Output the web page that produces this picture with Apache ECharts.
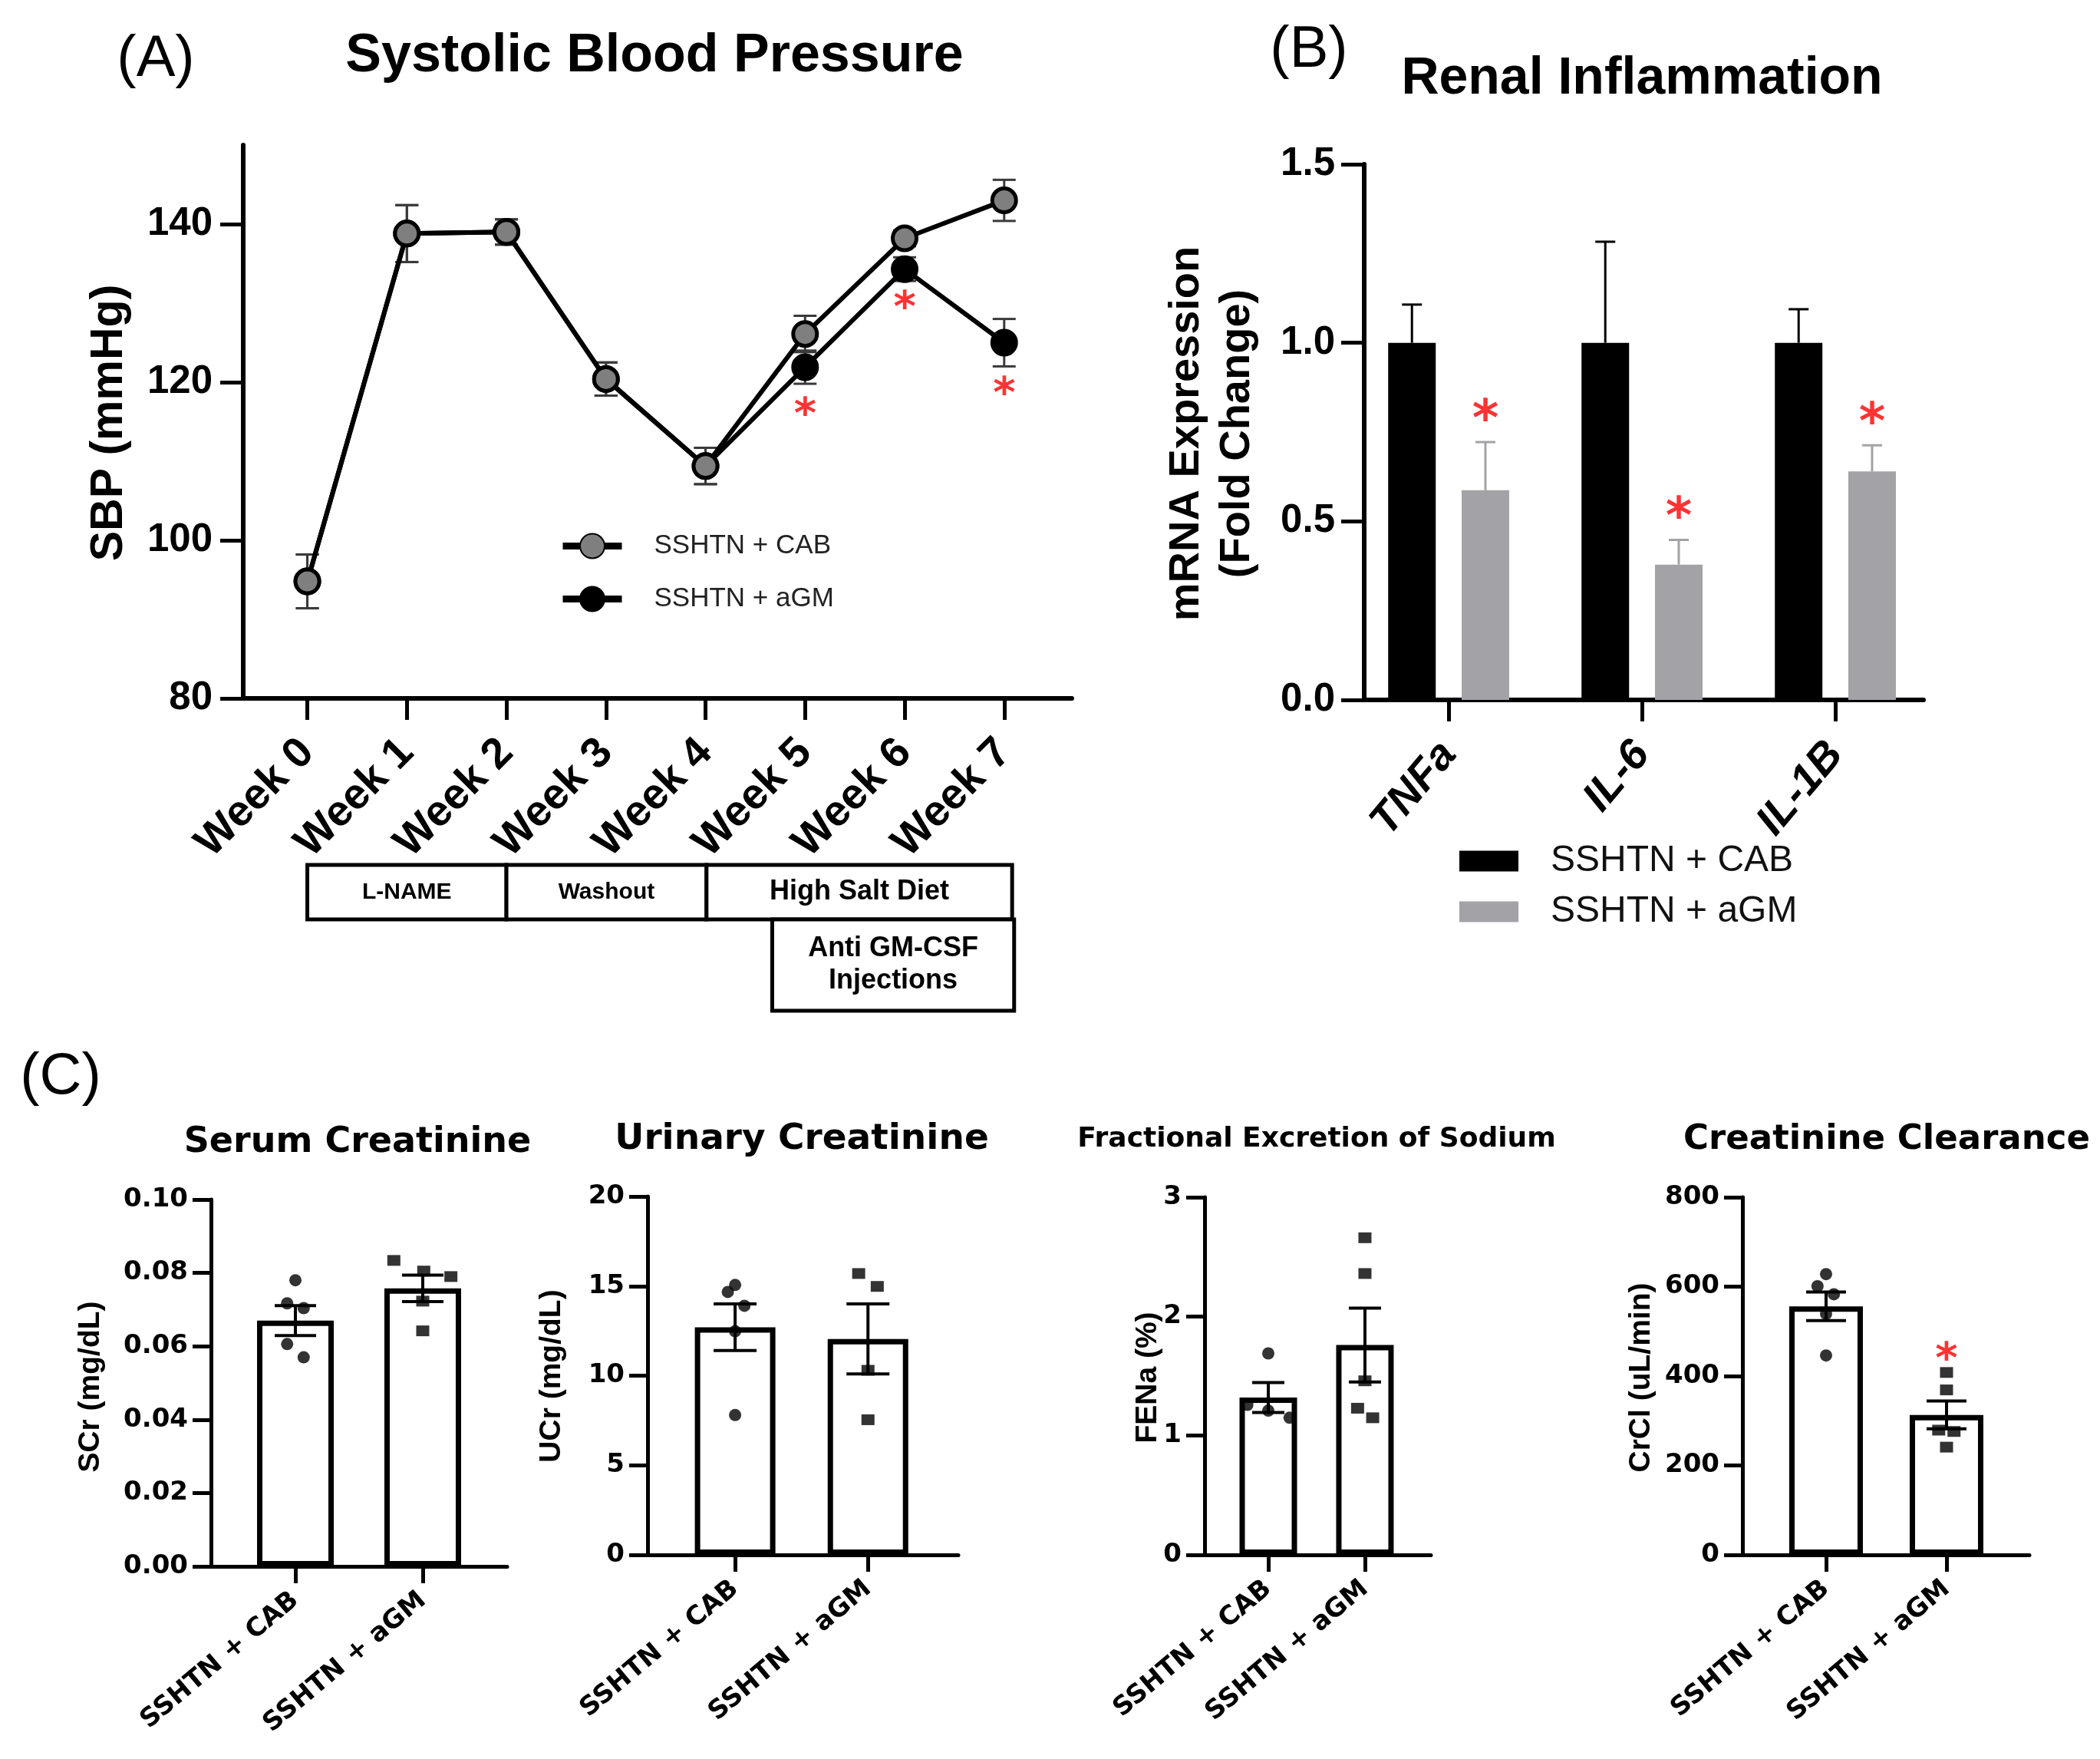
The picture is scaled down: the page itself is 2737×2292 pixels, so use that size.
<!DOCTYPE html>
<html><head><meta charset="utf-8">
<script src="https://cdn.jsdelivr.net/npm/echarts@6/dist/echarts.min.js"></script>
<style>html,body{margin:0;padding:0;background:#fff}#c{width:2737px;height:2292px}</style>
</head><body><div id="c"></div>
<script>
// ================= DATA =================
// (A) Systolic blood pressure
const weekLabels = ['Week 0','Week 1','Week 2','Week 3','Week 4','Week 5','Week 6','Week 7'];
const sbpTicks = [80, 100, 120, 140];
const sbpCAB    = [94.8, 138.8, 139.0, 120.4, 109.4, 126.1, 138.2, 143.0];
const sbpCABErr = [3.4, 3.6, 1.6, 2.1, 2.3, 2.3, 1.0, 2.6];
const sbpAGM    = [94.8, 138.8, 139.0, 120.4, 109.4, 121.9, 134.3, 125.0];
const sbpAGMErr = [3.4, 3.6, 1.6, 2.1, 2.3, 2.1, 1.5, 3.0];
const sbpStarWeek = [5, 6, 7];
const sbpStarY    = [116.9, 130.4, 119.6];
const phaseNames = ['L-NAME', 'Washout', 'High Salt Diet', 'Anti GM-CSF\nInjections'];
const phaseStart = [0, 2, 4.01, 4.67];
const phaseEnd   = [2, 4.01, 7.08, 7.1];
const phaseRow   = [0, 0, 0, 1];

// (B) Renal inflammation
const genes = ['TNFa', 'IL-6', 'IL-1B'];
const mrnaTicks = [0, 0.5, 1.0, 1.5];
const mrnaCAB    = [1.0, 1.0, 1.0];
const mrnaCABErr = [0.107, 0.283, 0.094];
const mrnaAGM    = [0.587, 0.379, 0.640];
const mrnaAGMErr = [0.135, 0.069, 0.073];
const mrnaStarY  = [0.813, 0.539, 0.803];

// (C) Kidney function
const groups = ['SSHTN + CAB', 'SSHTN + aGM'];
const scrTicks = [0, 0.02, 0.04, 0.06, 0.08, 0.10];
const scrMean = [0.0670, 0.0758];
const scrSem  = [0.0041, 0.0036];
const scrCAB  = [0.078, 0.0717, 0.0704, 0.0606, 0.0570];
const scrCABJit = [0, -0.065, 0.065, -0.065, 0.065];
const scrAGM  = [0.0834, 0.0805, 0.0790, 0.0723, 0.0642];
const scrAGMJit = [-0.227, 0.008, 0.221, 0, 0];

const ucrTicks = [0, 5, 10, 15, 20];
const ucrMean = [12.7, 12.05];
const ucrSem  = [1.3, 1.95];
const ucrCAB  = [14.67, 15.06, 13.9, 12.48, 7.8];
const ucrCABJit = [-0.055, 0, 0.07, 0, 0];
const ucrAGM  = [15.7, 14.98, 10.3, 7.54];
const ucrAGMJit = [-0.07, 0.07, 0, 0];

const fenaTicks = [0, 1, 2, 3];
const fenaMean = [1.32, 1.76];
const fenaSem  = [0.125, 0.31];
const fenaCAB  = [1.69, 1.258, 1.21, 1.15];
const fenaCABJit = [0, -0.217, 0, 0.22];
const fenaAGM  = [2.66, 2.36, 1.46, 1.23, 1.15];
const fenaAGMJit = [0, 0, 0, -0.076, 0.08];

const crclTicks = [0, 200, 400, 600, 800];
const crclMean = [556, 313];
const crclSem  = [32, 31];
const crclCAB  = [628, 601, 583, 539, 446];
const crclCABJit = [0, -0.071, 0.065, 0, 0];
const crclAGM  = [408, 369, 279, 276, 241];
const crclAGMJit = [0, 0, -0.065, 0.062, 0];
const crclStar = [[1, 456]];

// ================= STYLE =================
const FA = '"Liberation Sans", Arial, sans-serif';
const FD = '"DejaVu Sans", Verdana, sans-serif';
const GRAY_BAR = '#a3a3a7';
const B_OFF = 0.19;

function errRender(capHalf, color, lw, upperOnly) {
  return function (params, api) {
    const x = api.value(0), y = api.value(1), e = api.value(2);
    const pT = api.coord([x, y + e]);
    const pB = api.coord([x, upperOnly ? y : y - e]);
    const cx = pT[0];
    const st = { stroke: color, lineWidth: lw };
    const ch = [
      { type: 'line', shape: { x1: cx, y1: pT[1], x2: cx, y2: pB[1] }, style: st },
      { type: 'line', shape: { x1: cx - capHalf, y1: pT[1], x2: cx + capHalf, y2: pT[1] }, style: st }
    ];
    if (!upperOnly) ch.push({ type: 'line', shape: { x1: cx - capHalf, y1: pB[1], x2: cx + capHalf, y2: pB[1] }, style: st });
    return { type: 'group', children: ch };
  };
}

function starSeries(xi, yi, data, size, dy) {
  return {
    type: 'scatter', xAxisIndex: xi, yAxisIndex: yi, data: data, symbolSize: 1, z: 6, silent: true,
    itemStyle: { color: 'rgba(0,0,0,0)' },
    label: { show: true, formatter: '*', position: 'inside', offset: [0, dy], color: '#ff0000',
      fontSize: size, fontWeight: 'bold', fontFamily: FD }
  };
}

const grids = [
  { left: 317, top: 189, width: 1080, height: 721 },
  { left: 1778, top: 214, width: 729, height: 698 },
  { left: 275, top: 1563, width: 386, height: 478 },
  { left: 844, top: 1559, width: 405, height: 467 },
  { left: 1570, top: 1560, width: 295, height: 466 },
  { left: 2271, top: 1560, width: 374, height: 466 }
];

const axLine = (w) => ({ show: true, onZero: false, lineStyle: { color: '#000', width: w } });

const xAxes = [], yAxes = [], series = [];

// ---- A ----
const weekIdx = weekLabels.map((_, i) => i);
xAxes.push({ gridIndex: 0, type: 'value', min: -0.644, max: 7.68, axisLine: axLine(6),
  axisTick: { show: true, customValues: weekIdx, length: 28, lineStyle: { color: '#000', width: 5 } },
  axisLabel: { customValues: weekIdx, formatter: v => weekLabels[Math.round(v)], rotate: 45, margin: 62,
    fontSize: 56, fontWeight: 'bold', color: '#000', fontFamily: FA },
  splitLine: { show: false } });
yAxes.push({ gridIndex: 0, type: 'value', min: 80, max: 150, axisLine: axLine(6),
  axisTick: { show: true, customValues: sbpTicks, length: 30, lineStyle: { color: '#000', width: 5 } },
  axisLabel: { customValues: sbpTicks, margin: 40, fontSize: 51, fontWeight: 'bold', color: '#000', fontFamily: FA },
  splitLine: { show: false } });

series.push({ type: 'custom', xAxisIndex: 0, yAxisIndex: 0, z: 2, silent: true, clip: false,
  renderItem: errRender(15, '#3a3a3a', 3, false), encode: { x: 0, y: 1 },
  data: weekIdx.map(i => [i, sbpAGM[i], sbpAGMErr[i]]) });
series.push({ type: 'custom', xAxisIndex: 0, yAxisIndex: 0, z: 2, silent: true, clip: false,
  renderItem: errRender(15, '#3a3a3a', 3, false), encode: { x: 0, y: 1 },
  data: weekIdx.map(i => [i, sbpCAB[i], sbpCABErr[i]]) });
series.push({ name: 'SSHTN + aGM', type: 'line', xAxisIndex: 0, yAxisIndex: 0, z: 3,
  data: weekIdx.map(i => [i, sbpAGM[i]]), symbol: 'circle', symbolSize: 31,
  itemStyle: { color: '#000', borderColor: '#000', borderWidth: 5 },
  lineStyle: { color: '#000', width: 6 } });
series.push({ name: 'SSHTN + CAB', type: 'line', xAxisIndex: 0, yAxisIndex: 0, z: 4,
  data: weekIdx.map(i => [i, sbpCAB[i]]), symbol: 'circle', symbolSize: 31,
  itemStyle: { color: '#7f7f7f', borderColor: '#000', borderWidth: 5 },
  lineStyle: { color: '#000', width: 6 } });
series.push(starSeries(0, 0, sbpStarWeek.map((w, i) => [w, sbpStarY[i]]), 56, 13));
const phaseFont = [30, 30, 36, 36];
series.push({ type: 'custom', xAxisIndex: 0, yAxisIndex: 0, z: 2, silent: true, clip: false,
  encode: { x: [0, 1] },
  data: phaseNames.map((n, i) => [phaseStart[i], phaseEnd[i], phaseRow[i]]),
  renderItem: function (params, api) {
    const i = params.dataIndex;
    const x0 = api.coord([api.value(0), 80])[0];
    const x1 = api.coord([api.value(1), 80])[0];
    const base = api.coord([0, 80])[1];
    const row = api.value(2);
    const top = base + (row === 0 ? 217 : 288);
    const bot = base + (row === 0 ? 288 : 407);
    return { type: 'group', children: [
      { type: 'rect', shape: { x: x0, y: top, width: x1 - x0, height: bot - top },
        style: { fill: '#fff', stroke: '#000', lineWidth: 5 } },
      { type: 'text', x: (x0 + x1) / 2, y: (top + bot) / 2,
        style: { text: phaseNames[i], fill: '#000', font: 'bold ' + phaseFont[i] + 'px ' + FA,
          align: 'center', verticalAlign: 'middle', textAlign: 'center', textVerticalAlign: 'middle', lineHeight: 42 } }
    ] };
  } });

// ---- B ----
const geneIdx = genes.map((_, i) => i);
xAxes.push({ gridIndex: 1, type: 'value', min: -0.437, max: 2.456, axisLine: axLine(6),
  axisTick: { show: true, customValues: geneIdx, length: 28, lineStyle: { color: '#000', width: 5 } },
  axisLabel: { customValues: geneIdx, formatter: v => genes[Math.round(v)], rotate: 50, margin: 62,
    fontSize: 56, fontWeight: 'bold', fontStyle: 'italic', color: '#000', fontFamily: FA },
  splitLine: { show: false } });
yAxes.push({ gridIndex: 1, type: 'value', min: 0, max: 1.5, axisLine: axLine(6),
  axisTick: { show: true, customValues: mrnaTicks, length: 30, lineStyle: { color: '#000', width: 5 } },
  axisLabel: { customValues: mrnaTicks, formatter: v => v.toFixed(1), margin: 38, fontSize: 51,
    fontWeight: 'bold', color: '#000', fontFamily: FA },
  splitLine: { show: false } });
series.push({ name: 'B:SSHTN + CAB', type: 'bar', xAxisIndex: 1, yAxisIndex: 1, z: 2, barWidth: 62, barGap: '-100%',
  data: geneIdx.map(i => [i - B_OFF, mrnaCAB[i]]), itemStyle: { color: '#000' } });
series.push({ name: 'B:SSHTN + aGM', type: 'bar', xAxisIndex: 1, yAxisIndex: 1, z: 2, barWidth: 62, barGap: '-100%',
  data: geneIdx.map(i => [i + B_OFF, mrnaAGM[i]]), itemStyle: { color: GRAY_BAR } });
series.push({ type: 'custom', xAxisIndex: 1, yAxisIndex: 1, z: 1, silent: true, clip: false,
  renderItem: errRender(13, '#000', 3, true), encode: { x: 0, y: 1 },
  data: geneIdx.map(i => [i - B_OFF, mrnaCAB[i], mrnaCABErr[i]]) });
series.push({ type: 'custom', xAxisIndex: 1, yAxisIndex: 1, z: 1, silent: true, clip: false,
  renderItem: errRender(13, GRAY_BAR, 3, true), encode: { x: 0, y: 1 },
  data: geneIdx.map(i => [i + B_OFF, mrnaAGM[i], mrnaAGMErr[i]]) });
series.push(starSeries(1, 1, geneIdx.map(i => [i + B_OFF, mrnaStarY[i]]), 66, 16));

// ---- C ----
const cPanels = [
  { ticks: scrTicks, fmt: v => v.toFixed(2), mean: scrMean, sem: scrSem, a: scrCAB, aj: scrCABJit, b: scrAGM, bj: scrAGMJit,
    min: -0.663, max: 1.663, barW: 100, cap: 27 },
  { ticks: ucrTicks, fmt: v => String(v), mean: ucrMean, sem: ucrSem, a: ucrCAB, aj: ucrCABJit, b: ucrAGM, bj: ucrAGMJit,
    min: -0.659, max: 1.68, barW: 105, cap: 28 },
  { ticks: fenaTicks, fmt: v => String(v), mean: fenaMean, sem: fenaSem, a: fenaCAB, aj: fenaCABJit, b: fenaAGM, bj: fenaAGMJit,
    min: -0.659, max: 1.683, barW: 75, cap: 21 },
  { ticks: crclTicks, fmt: v => String(v), mean: crclMean, sem: crclSem, a: crclCAB, aj: crclCABJit, b: crclAGM, bj: crclAGMJit,
    min: -0.694, max: 1.688, barW: 96, cap: 26 }
];
const grpIdx = groups.map((_, i) => i);
cPanels.forEach((p, k) => {
  const gi = k + 2;
  xAxes.push({ gridIndex: gi, type: 'value', min: p.min, max: p.max, axisLine: axLine(5),
    axisTick: { show: true, customValues: grpIdx, length: 22, lineStyle: { color: '#000', width: 5 } },
    axisLabel: { customValues: grpIdx, formatter: v => groups[Math.round(v)], rotate: 40, margin: 40,
      fontSize: 34, fontWeight: 'bold', color: '#000', fontFamily: FD },
    splitLine: { show: false } });
  yAxes.push({ gridIndex: gi, type: 'value', min: p.ticks[0], max: p.ticks[p.ticks.length - 1], axisLine: axLine(5),
    axisTick: { show: true, customValues: p.ticks, length: 24, lineStyle: { color: '#000', width: 5 } },
    axisLabel: { customValues: p.ticks, formatter: p.fmt, margin: 30, fontSize: 34, fontWeight: 'bold',
      color: '#000', fontFamily: FD },
    splitLine: { show: false } });
  series.push({ type: 'bar', xAxisIndex: gi, yAxisIndex: gi, z: 2, barWidth: p.barW, silent: true,
    data: grpIdx.map(i => [i, p.mean[i]]),
    itemStyle: { color: '#fff', borderColor: '#000', borderWidth: 7 } });
  series.push({ type: 'custom', xAxisIndex: gi, yAxisIndex: gi, z: 3, silent: true, clip: false,
    renderItem: errRender(p.cap, '#000', 4, false), encode: { x: 0, y: 1 },
    data: grpIdx.map(i => [i, p.mean[i], p.sem[i]]) });
  series.push({ type: 'scatter', xAxisIndex: gi, yAxisIndex: gi, z: 4, silent: true, symbol: 'circle', symbolSize: 16,
    itemStyle: { color: '#000' }, data: p.a.map((v, j) => [0 + p.aj[j], v]) });
  series.push({ type: 'scatter', xAxisIndex: gi, yAxisIndex: gi, z: 4, silent: true, symbol: 'rect', symbolSize: [17, 14],
    itemStyle: { color: '#000' }, data: p.b.map((v, j) => [1 + p.bj[j], v]) });
});
series.push(starSeries(5, 5, crclStar, 56, 13));

// ---- texts ----
function txt(x, y, text, font, opts) {
  opts = opts || {};
  return { type: 'text', x: x, y: y, rotation: opts.rot || 0, silent: true,
    style: { text: text, font: font, fill: opts.color || '#000', align: 'center', verticalAlign: 'middle',
      textAlign: 'center', textVerticalAlign: 'middle', lineHeight: opts.lh } };
}
const graphics = [
  txt(203, 78, '(A)', '76px ' + FA),
  txt(853, 74, 'Systolic Blood Pressure', 'bold 70px ' + FA),
  txt(143, 551, 'SBP (mmHg)', 'bold 59px ' + FA, { rot: Math.PI / 2 }),
  txt(1706, 66, '(B)', '76px ' + FA),
  txt(2140, 103, 'Renal Inflammation', 'bold 68px ' + FA),
  txt(1580, 565, 'mRNA Expression\n(Fold Change)', 'bold 56px ' + FA, { rot: Math.PI / 2, lh: 66 }),
  txt(79, 1404, '(C)', '76px ' + FA),
  txt(466, 1489, 'Serum Creatinine', 'bold 46px ' + FD),
  txt(1045, 1485, 'Urinary Creatinine', 'bold 47px ' + FD),
  txt(1716, 1485, 'Fractional Excretion of Sodium', 'bold 36px ' + FD),
  txt(2459, 1485, 'Creatinine Clearance', 'bold 45px ' + FD),
  txt(118, 1807, 'SCr (mg/dL)', 'bold 39px ' + FA, { rot: Math.PI / 2 }),
  txt(719, 1793, 'UCr (mg/dL)', 'bold 39px ' + FA, { rot: Math.PI / 2 }),
  txt(1496, 1795, 'FENa (%)', 'bold 39px ' + FA, { rot: Math.PI / 2 }),
  txt(2139, 1795, 'CrCl (uL/min)', 'bold 39px ' + FA, { rot: Math.PI / 2 })
];

const option = {
  animation: false,
  backgroundColor: '#fff',
  grid: grids,
  xAxis: xAxes,
  yAxis: yAxes,
  legend: [
    { left: 724, top: 689, orient: 'vertical', itemWidth: 77, itemHeight: 40, itemGap: 34, selectedMode: false,
      data: ['SSHTN + CAB', 'SSHTN + aGM'], lineStyle: { width: 9 },
      textStyle: { fontSize: 35, color: '#222', fontFamily: FA, padding: [0, 0, 0, 37] } },
    { left: 1897, top: 1093, orient: 'vertical', itemWidth: 77, itemHeight: 27, itemGap: 18, selectedMode: false,
      icon: 'rect', data: ['B:SSHTN + CAB', 'B:SSHTN + aGM'], formatter: n => n.replace(/^B:/, ''),
      textStyle: { fontSize: 48, color: '#111', fontFamily: FA, padding: [0, 0, 0, 37] } }
  ],
  graphic: graphics,
  series: series
};
const chart = echarts.init(document.getElementById('c'));
chart.setOption(option);
</script></body></html>
